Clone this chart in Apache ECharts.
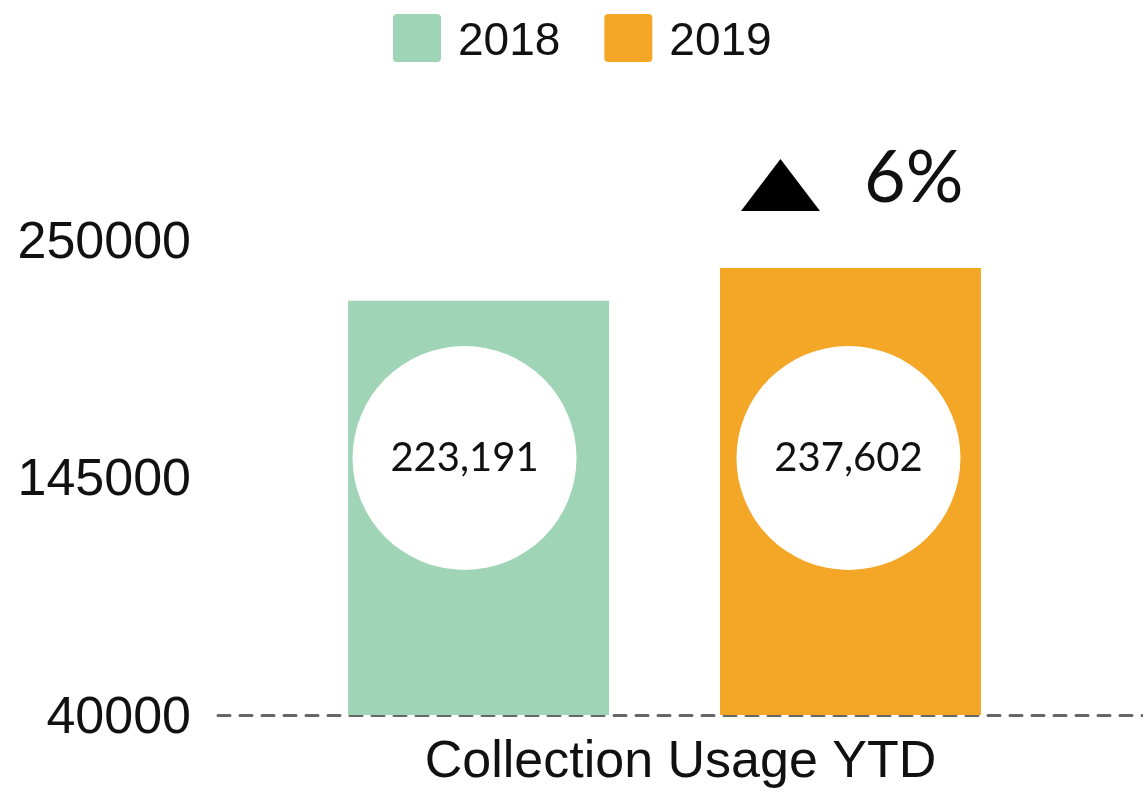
<!DOCTYPE html>
<html>
<head>
<meta charset="utf-8">
<style>
  html, body { margin: 0; padding: 0; background: #fff; }
  #chart { width: 1143px; height: 800px; }
</style>
<script src="https://cdn.jsdelivr.net/npm/echarts@6/dist/echarts.min.js"></script>
</head>
<body>
<div id="chart"></div>
<script>
// Year-to-date collection usage, two years side by side
const categories = ['Collection Usage YTD'];
const seriesNames = ['2018', '2019'];
const values2018 = [223191];
const values2019 = [237602];
const yTicks = [40000, 145000, 250000];
const changeLabel = '6%';

const GREEN = '#A0D4B7';
const ORANGE = '#F4A626';
const SANS = 'Liberation Sans, Arial, sans-serif';
const ROUND = 'Lato, "Noto Sans", sans-serif';
// square legend swatch with slightly rounded corners
const SWATCH = 'path://M4,0H44A4,4,0,0,1,48,4V44A4,4,0,0,1,44,48H4A4,4,0,0,1,0,44V4A4,4,0,0,1,4,0Z';

const chart = echarts.init(document.getElementById('chart'));

const fmt = v => Number(v).toLocaleString('en-US');

// white disc holding the value, sitting in the lower part of each bar
const discLabel = (dx) => ({
  show: true,
  position: 'insideBottom',
  distance: 145,
  offset: [dx, 0],
  formatter: p => fmt(p.value),
  backgroundColor: '#fff',
  width: 224,
  height: 224,
  lineHeight: 224,
  borderRadius: 112,
  align: 'center',
  fontFamily: ROUND,
  fontSize: 40,
  color: '#111'
});

chart.setOption({
  animation: false,
  legend: {
    left: 388,
    top: 9,
    itemWidth: 48,
    itemHeight: 48,
    itemGap: 44,
    icon: SWATCH,
    data: seriesNames,
    formatter: name => '{t|' + name + '}',
    textStyle: {
      fontFamily: SANS, fontSize: 46, color: '#111',
      rich: { t: { fontFamily: SANS, fontSize: 46, color: '#111', padding: [8, 0, 0, 12] } }
    }
  },
  grid: [
    { left: 202, right: 16, top: 240, bottom: 85 },
    { left: 218, right: 0, top: 240, bottom: 85 }
  ],
  xAxis: [
    { type: 'category', gridIndex: 0, data: categories, show: false },
    {
      type: 'category', gridIndex: 1, data: categories,
      axisLine: { show: true, lineStyle: { color: '#666', width: 3, type: [12, 10] } },
      axisTick: { show: false },
      axisLabel: { fontFamily: SANS, fontSize: 52, color: '#111', margin: 22 }
    }
  ],
  yAxis: [
    {
      type: 'value', gridIndex: 0,
      min: yTicks[0], max: yTicks[yTicks.length - 1], interval: yTicks[1] - yTicks[0],
      axisLine: { show: false }, axisTick: { show: false }, splitLine: { show: false },
      axisLabel: {
        fontFamily: SANS, fontSize: 52, color: '#111', margin: 11,
        formatter: v => yTicks.includes(v) ? '{v|' + v + '}' : '',
        rich: { v: { fontFamily: SANS, fontSize: 52, color: '#111', padding: [7, 0, 0, 0] } }
      }
    },
    { type: 'value', gridIndex: 1, show: false }
  ],
  series: [
    {
      name: seriesNames[0], type: 'bar', xAxisIndex: 0, yAxisIndex: 0,
      data: values2018, barWidth: 261, barGap: '42.5%',
      itemStyle: { color: GREEN },
      label: discLabel(-14)
    },
    {
      name: seriesNames[1], type: 'bar', xAxisIndex: 0, yAxisIndex: 0,
      data: values2019, barWidth: 261, barGap: '42.5%',
      itemStyle: { color: ORANGE },
      label: discLabel(-2),
      markPoint: {
        symbol: 'triangle',
        symbolSize: [79, 52],
        symbolOffset: [-70, -83],
        itemStyle: { color: '#000' },
        label: {
          show: true, position: 'right', distance: 44,
          formatter: changeLabel,
          fontFamily: ROUND, fontSize: 72, color: '#111', offset: [0, -6]
        },
        data: [{ type: 'max' }]
      }
    }
  ]
});
</script>
</body>
</html>
